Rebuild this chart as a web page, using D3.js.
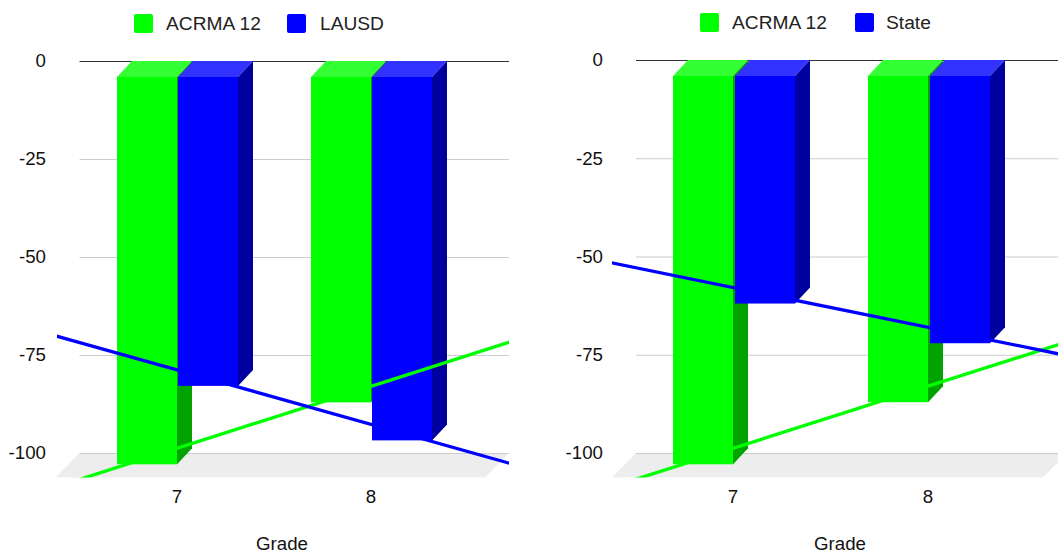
<!DOCTYPE html>
<html>
<head>
<meta charset="utf-8">
<script src="https://cdn.jsdelivr.net/npm/d3@7"></script>
<style>
  html, body { margin: 0; padding: 0; background: #fff; overflow: hidden; }
  svg { display: block; }
  text { font-family: "Liberation Sans", Arial, sans-serif; font-size: 18.7px; }
  .legend-label { font-size: 19.2px; }
</style>
</head>
<body>
<svg id="chart" width="1058" height="553"></svg>
<script>
const grades = [7, 8];
const tickValues = [0, -25, -50, -75, -100];
const acrma12 = [-98.8, -83];
const lausd = [-78.8, -92.7];
const state = [-57.9, -68];
const colours = {
  green: { front: "#00ff00", top: "#33ff33", side: "#00a300" },
  blue: { front: "#0000ff", top: "#3333ff", side: "#00009f" }
};

const BAR_WIDTH = 60, BAR_DX = 15, BAR_DY = 16, FLOOR_DX = 24, FLOOR_DY = 24.5;
const svg = d3.select("#chart");

// Least-squares line through the (grade, value) pairs of a series.
function trend(xs, ys) {
  const mx = d3.mean(xs), my = d3.mean(ys);
  const slope = d3.sum(xs, (x, i) => (x - mx) * (ys[i] - my)) / d3.sum(xs, x => (x - mx) ** 2);
  return x => my + slope * (x - mx);
}

function panel(opts) {
  const g = svg.append("g");
  const x = d3.scaleLinear().domain(grades).range(opts.gradeX);
  const y = d3.scaleLinear().domain([0, -100]).range(opts.yRange);
  const right = opts.wallRight;
  const bottom = opts.yRange[1];

  // Floor of the 3D box
  g.append("path")
    .attr("fill", "#ededed")
    .attr("d", d3.line()([
      [opts.wallLeft, bottom], [right, bottom],
      [right - FLOOR_DX, bottom + FLOOR_DY], [opts.wallLeft - FLOOR_DX, bottom + FLOOR_DY]
    ]) + "Z");

  // Value axis and back-wall grid lines
  const axis = g.append("g")
    .attr("transform", `translate(${opts.wallLeft},0)`)
    .call(d3.axisLeft(y).tickValues(tickValues).tickFormat(d => String(d))
      .tickSizeInner(-(right - opts.wallLeft)).tickPadding(opts.wallLeft - opts.labelRight));
  axis.select(".domain").remove();
  axis.selectAll(".tick line")
    .attr("stroke", d => d === 0 ? "#333333" : "#cccccc")
    .attr("stroke-width", 1);
  axis.selectAll(".tick text").attr("fill", "#111111").attr("font-size", null).attr("font-family", null);

  // Extruded bars, one pair per grade
  const series = [
    { values: acrma12, colour: colours.green, offset: -BAR_WIDTH },
    { values: opts.other, colour: colours.blue, offset: opts.barGap }
  ];
  series.forEach(s => {
    grades.forEach((grade, i) => {
      const left = x(grade) + s.offset, w = BAR_WIDTH;
      const top = y(0) + BAR_DY, base = y(s.values[i]) + BAR_DY;
      const bar = g.append("g");
      bar.append("path").attr("fill", s.colour.top).attr("d", d3.line()([
        [left, top], [left + w, top], [left + w + BAR_DX, top - BAR_DY], [left + BAR_DX, top - BAR_DY]
      ]) + "Z");
      bar.append("path").attr("fill", s.colour.side).attr("d", d3.line()([
        [left + w, top], [left + w + BAR_DX, top - BAR_DY], [left + w + BAR_DX, base - BAR_DY], [left + w, base]
      ]) + "Z");
      bar.append("rect").attr("fill", s.colour.front)
        .attr("x", left).attr("y", top).attr("width", w).attr("height", base - top);
    });
  });

  // Trend lines, cut off at the plot box
  const clipId = "clip-" + opts.name;
  svg.append("clipPath").attr("id", clipId).append("rect")
    .attr("x", opts.clipLeft).attr("y", y(0))
    .attr("width", right - opts.clipLeft).attr("height", bottom + FLOOR_DY - y(0));
  const ends = [x.invert(opts.clipLeft - 10), x.invert(right + 10)];
  const lines = g.append("g").attr("clip-path", `url(#${clipId})`);
  [{ values: acrma12, stroke: colours.green.front }, { values: opts.other, stroke: colours.blue.front }]
    .forEach(s => {
      const f = trend(grades, s.values);
      lines.append("path").attr("fill", "none").attr("stroke", s.stroke).attr("stroke-width", 3.3)
        .attr("d", d3.line().x(d => x(d)).y(d => y(f(d)))(ends));
    });

  // Category labels and axis title
  g.selectAll(".grade").data(grades).join("text")
    .attr("class", "grade").attr("x", d => x(d)).attr("y", 503)
    .attr("text-anchor", "middle").attr("fill", "#111111").text(d => d);
  g.append("text").attr("x", opts.titleX).attr("y", 550)
    .attr("text-anchor", "middle").attr("fill", "#111111").text("Grade");

  // Legend
  opts.legend.forEach(item => {
    g.append("rect").attr("x", item.swatch).attr("y", opts.legendY)
      .attr("width", 19).attr("height", 19).attr("rx", 2).attr("fill", item.fill);
    g.append("text").attr("class", "legend-label").attr("x", item.text).attr("y", opts.legendY + 16)
      .attr("fill", "#222222").text(item.label);
  });
}

panel({
  name: "lausd", other: lausd, barGap: 1,
  gradeX: [177, 371], yRange: [61, 453],
  wallLeft: 79.5, wallRight: 509, clipLeft: 57, labelRight: 46,
  titleX: 282, legendY: 14,
  legend: [
    { swatch: 134, text: 166, label: "ACRMA 12", fill: colours.green.front },
    { swatch: 287, text: 320, label: "LAUSD", fill: colours.blue.front }
  ]
});

panel({
  name: "state", other: state, barGap: 2,
  gradeX: [733, 928], yRange: [60, 453],
  wallLeft: 636, wallRight: 1067, clipLeft: 612, labelRight: 603,
  titleX: 840, legendY: 13,
  legend: [
    { swatch: 700, text: 732, label: "ACRMA 12", fill: colours.green.front },
    { swatch: 855, text: 886, label: "State", fill: colours.blue.front }
  ]
});
</script>
</body>
</html>
